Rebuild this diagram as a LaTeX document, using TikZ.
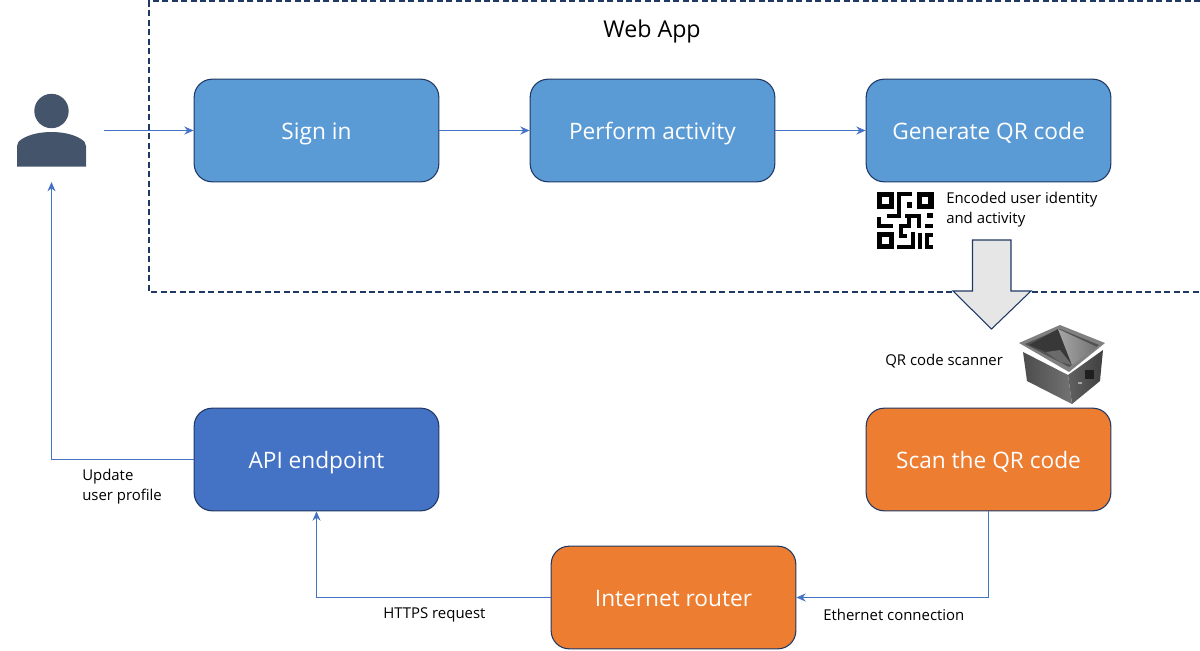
\documentclass[tikz,border=0pt]{standalone}
\usepackage{fontspec}
\setmainfont{Open Sans}
\usetikzlibrary{arrows.meta}
\definecolor{bluebox}{HTML}{5B9BD5}
\definecolor{darkblue}{HTML}{4472C4}
\definecolor{orangebox}{HTML}{ED7D31}
\definecolor{edgeblue}{HTML}{1F3864}
\definecolor{person}{HTML}{44546A}
\definecolor{arrowfill}{HTML}{E7E6E6}
\newcommand{\lowr}[1]{\raisebox{-6.8pt}[0pt][0pt]{#1}}
\tikzset{
  flowbox/.style={draw=edgeblue,line width=0.8pt,rounded corners=13.5pt,minimum width=183.5pt,minimum height=77pt,text=white,font=\fontsize{17}{20}\selectfont,inner sep=0pt},
  conn/.style={draw=darkblue,line width=0.75pt,-{Stealth[length=7pt,width=6pt]}},
  smalltext/.style={font=\fontsize{11.2}{15}\selectfont,align=left,anchor=west,inner sep=0pt,text=black},
  qr/.style={draw=black,line width=3.2pt,line cap=butt,line join=miter},
  qrring/.style={draw=black,line width=4pt,line join=miter},
}
\begin{document}
\begin{tikzpicture}[x=0.75pt,y=-0.75pt]
\useasboundingbox (0,0) rectangle (1200,650);
\draw[edgeblue,line width=1pt,dash pattern=on 4.5pt off 2.6pt] (1200,1) -- (149,1) -- (149,292) -- (1200,292);
\node[font=\fontsize{17.4}{20}\selectfont,inner sep=0pt] (title) at (652,31) {Web App};
\node[flowbox,fill=bluebox] (signin) at (316.5,130.5) {\lowr{Sign in}};
\node[flowbox,fill=bluebox] (perform) at (652.5,130.5) {\lowr{Perform activity}};
\node[flowbox,fill=bluebox] (generate) at (988.5,130.5) {\lowr{Generate QR code}};
\node[flowbox,fill=darkblue] (api) at (316.5,459.5) {\lowr{API endpoint}};
\node[flowbox,fill=orangebox] (scan) at (988.5,459.5) {\lowr{Scan the QR code}};
\node[flowbox,fill=orangebox] (router) at (673.5,597.5) {\lowr{Internet router}};
% person
\fill[person] (51.5,111) circle (17.2);
\fill[person] (17,166.5) -- (17,146) .. controls (17,143) and (19,141) .. (22,139) .. controls (30,134) and (41,132) .. (51.5,132) .. controls (62,132) and (73,134) .. (81,139) .. controls (84,141) and (86,143) .. (86,146) -- (86,166.5) -- cycle;
\coordinate (userin) at (104,130.5);
\coordinate (userback) at (51.5,182);
\draw[conn] (userin) -- (signin);
\draw[conn] (signin) -- (perform);
\draw[conn] (perform) -- (generate);
\draw[conn] (api.west) -| (userback);
\draw[conn] (scan.south) |- (router.east);
\draw[conn] (router.west) -| (api.south);
\node[smalltext] (lblencoded) at (946,210) {Encoded user identity\\and activity};
\node[smalltext] (lblscanner) at (885,361) {QR code scanner};
\node[smalltext] (lblupdate) at (82,487) {Update\\user profile};
\node[smalltext] (lblhttps) at (383,614.5) {HTTPS request};
\node[smalltext] (lbleth) at (823,614.5) {Ethernet connection};
% big arrow
\draw[edgeblue,line width=0.8pt,fill=arrowfill,line join=miter] (972.5,240) -- (1011,240) -- (1011,291) -- (1031,291) -- (991.5,329) -- (953,291) -- (972.5,291) -- cycle;
% QR glyph (coordinates: zoomed crop units, 3 per pixel)
\begin{scope}[shift={(870,185)},x=0.25pt,y=-0.25pt]
\draw[qrring] (29,29) rectangle (65,65);
\draw[qrring] (149,29) rectangle (183,65);
\draw[qrring] (29,149) rectangle (65,185);
\draw[qr] (125,28) -- (88,28) -- (88,92) -- (50,92);
\fill (112,50) rectangle (125,70);
\draw[qr] (28,97) -- (28,124) -- (70,124);
\draw[qr] (105,92) -- (147,92) -- (147,130);
\fill (170,85) rectangle (190,98);
\fill (165,118) rectangle (190,130);
\draw[qr] (117,100) -- (117,124) -- (92,124) -- (92,152) -- (110,152);
\draw[qr] (82,186) -- (129,186) -- (129,140);
\draw[qr] (150,145) -- (150,192);
\draw[qr] (190,150) -- (172,150) -- (172,186) -- (190,186);
\end{scope}
% scanner
\shade[left color=black!70,right color=black!55] (1023,352) -- (1068,375) -- (1072,404) -- (1027,381) -- cycle;
\shade[left color=black!62,right color=black!75] (1068,375) -- (1103,350) -- (1100,381) -- (1072,404) -- cycle;
\fill[black!50] (1019,343) -- (1060,325) -- (1105,343) -- (1069,372) -- cycle;
\fill[black!68] (1025,344) -- (1060,329) -- (1099,345) -- (1069,367) -- cycle;
\fill[black!78] (1058,329) -- (1029,345) -- (1060,358) -- (1072,365) -- cycle;
\shade[left color=black!35,right color=black!55] (1058,329) -- (1072,365) -- (1097,347) -- cycle;
\fill[black!58] (1046,352) -- (1060,350) -- (1072,365) -- (1060,362) -- cycle;
\fill[black!88] (1085,370) rectangle (1094,379);
\fill[black!35] (1078,382) rectangle (1082,384);
\end{tikzpicture}
\end{document}
